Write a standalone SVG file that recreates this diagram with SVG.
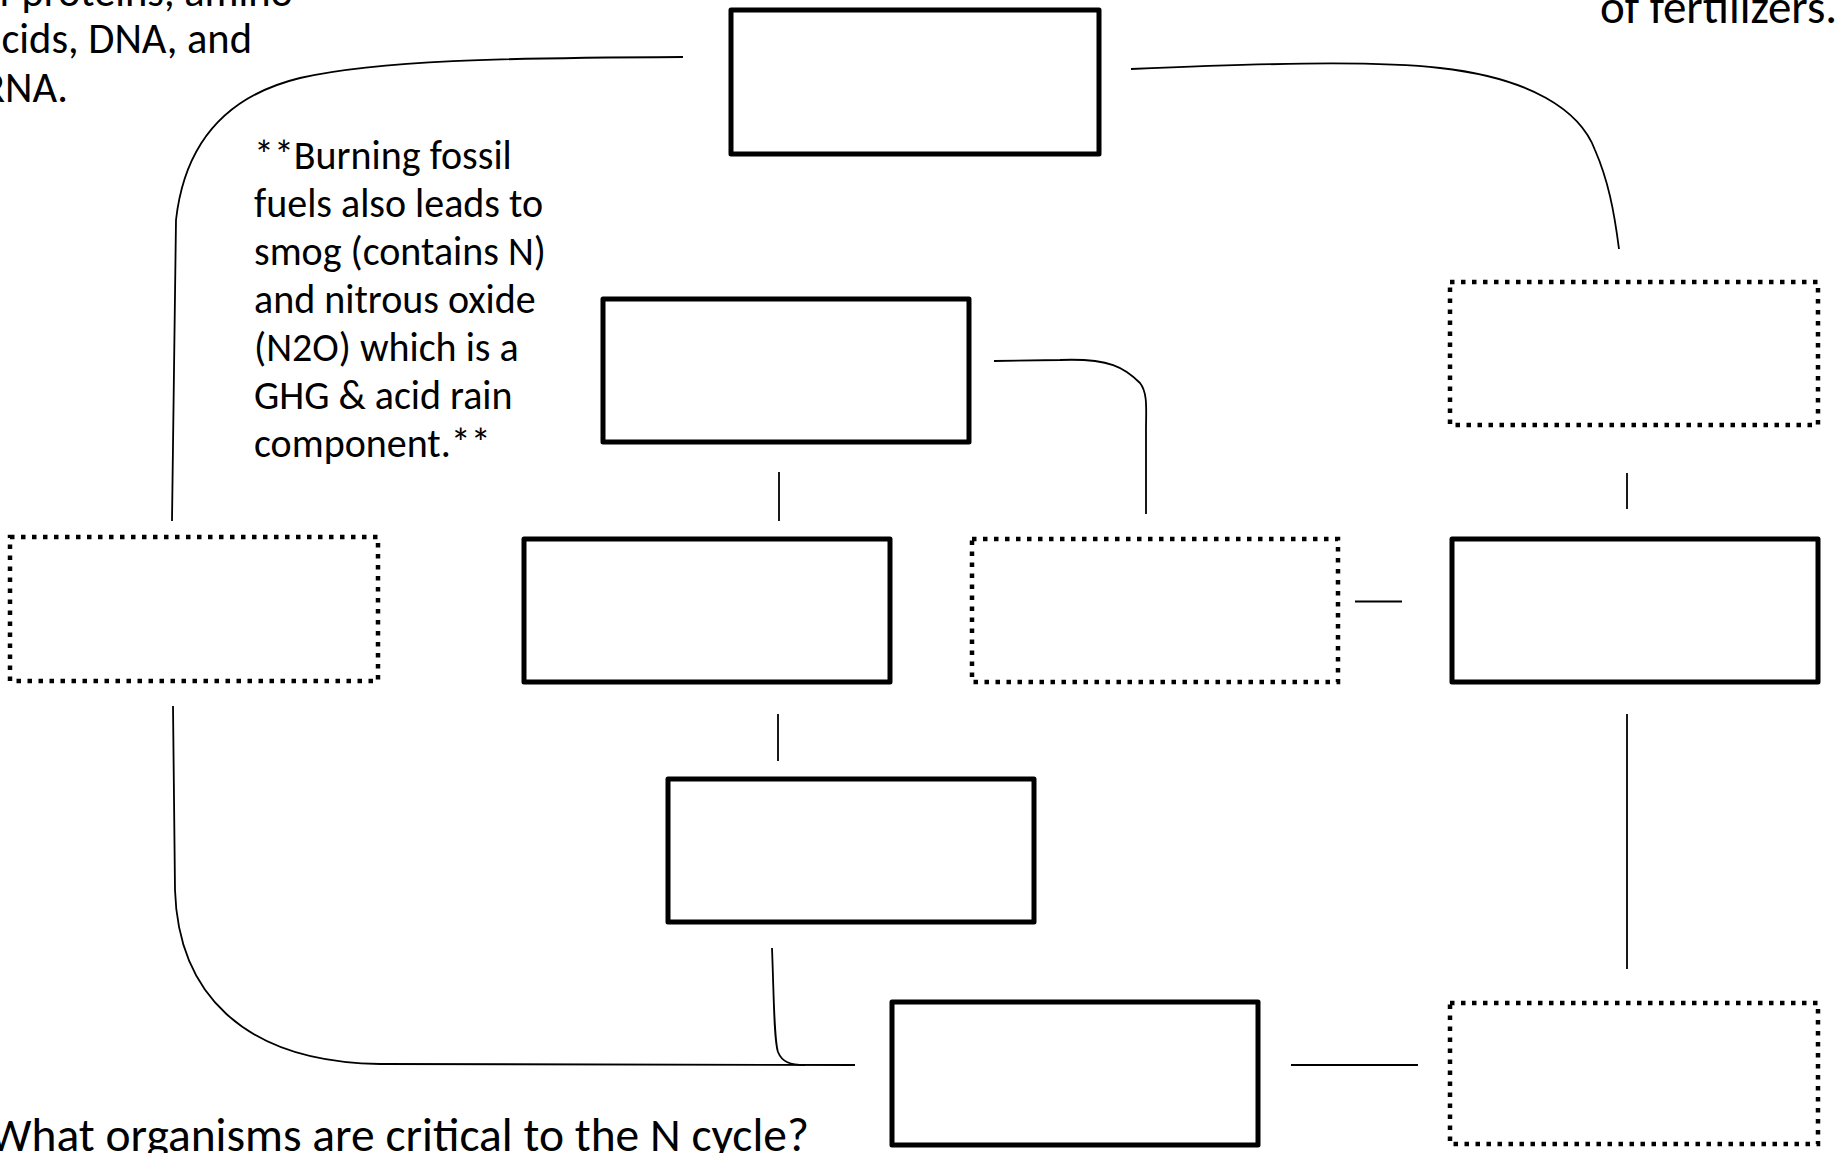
<svg xmlns="http://www.w3.org/2000/svg" width="1835" height="1153" viewBox="0 0 1835 1153">
<style>
.box{fill:none;stroke:#000;stroke-width:5;stroke-linejoin:round}
.dot{fill:none;stroke:#000;stroke-width:4.5;stroke-dasharray:4.5 6.5}
.con{fill:none;stroke:#000;stroke-width:1.8;stroke-linecap:butt}
.t{font-family:Carlito,Lato,"Liberation Sans",sans-serif;fill:#000}
</style>
<rect width="1835" height="1153" fill="#fff"/>
<g id="texts">
<text class="t" font-size="42.5" x="293" y="6" text-anchor="end">of proteins, amino</text>
<text class="t" font-size="42.5" x="252" y="53" text-anchor="end">acids, DNA, and</text>
<text class="t" font-size="42.5" x="68" y="102" text-anchor="end">RNA.</text>
<text class="t" font-size="47" x="1600" y="23">of fertilizers.</text>
<text class="t" font-size="40" x="254">
<tspan x="254" y="169">**Burning fossil</tspan>
<tspan x="254" y="217">fuels also leads to</tspan>
<tspan x="254" y="265">smog (contains N)</tspan>
<tspan x="254" y="313">and nitrous oxide</tspan>
<tspan x="254" y="361">(N2O) which is a</tspan>
<tspan x="254" y="409">GHG &amp; acid rain</tspan>
<tspan x="254" y="457">component.**</tspan>
</text>
<text class="t" font-size="47.5" x="809" y="1151" text-anchor="end">What organisms are critical to the N cycle?</text>
</g>
<g id="connectors">
<path class="con" d="M683,57 C500,58 380,60 300,78 C230,95 185,140 176,220 L172,521"/>
<path class="con" d="M173,706 L175,890 C178,990 240,1062 380,1064 L855,1065"/>
<path class="con" d="M772,948 C774,1000 774,1040 778,1052 C782,1062 790,1065 805,1065"/>
<path class="con" d="M1131,69 C1250,64 1370,60 1440,68 C1530,78 1580,110 1595,150 C1608,180 1614,210 1619,249"/>
<path class="con" d="M994,361 L1060,360 C1110,358 1125,368 1140,383 C1148,393 1146,410 1146,430 L1146,514"/>
<line class="con" x1="779" y1="472" x2="779" y2="521"/>
<line class="con" x1="778" y1="714" x2="778" y2="761"/>
<line class="con" x1="1627" y1="473" x2="1627" y2="509"/>
<line class="con" x1="1355" y1="601.5" x2="1402" y2="601.5"/>
<line class="con" x1="1627" y1="714" x2="1627" y2="969"/>
<line class="con" x1="1291" y1="1065" x2="1418" y2="1065"/>
</g>
<g id="node-top"><rect class="box" x="731" y="10" width="368" height="144"/></g>
<g id="node-upper-mid"><rect class="box" x="603" y="299" width="366" height="143"/></g>
<g id="node-left-dotted"><rect class="dot" x="10" y="537" width="368" height="144"/></g>
<g id="node-mid-left"><rect class="box" x="524" y="539" width="366" height="143"/></g>
<g id="node-mid-dotted"><rect class="dot" x="972" y="539" width="366" height="143"/></g>
<g id="node-right"><rect class="box" x="1452" y="539" width="366" height="143"/></g>
<g id="node-right-top-dotted"><rect class="dot" x="1450" y="282" width="368" height="143"/></g>
<g id="node-lower-mid"><rect class="box" x="668" y="779" width="366" height="143"/></g>
<g id="node-bottom"><rect class="box" x="892" y="1002" width="366" height="143"/></g>
<g id="node-bottom-right-dotted"><rect class="dot" x="1450" y="1003" width="368" height="141"/></g>
</svg>
